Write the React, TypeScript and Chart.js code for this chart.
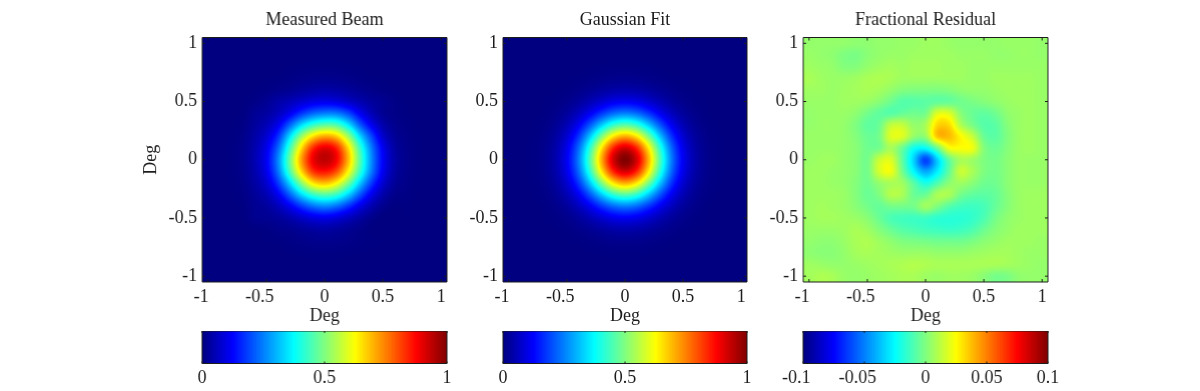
import React, { useEffect, useRef } from "react";
import { Chart, registerables } from "chart.js";

Chart.register(...registerables);

const FONT = '"Liberation Serif"';
const INK = "#1c1c1c";
const FONT_SIZE = 18;

// grid coordinates, degrees
const gridAxis = [-1, -0.9, -0.8, -0.7, -0.6, -0.5, -0.4, -0.3, -0.2, -0.1, 0, 0.1, 0.2, 0.3, 0.4, 0.5, 0.6, 0.7, 0.8, 0.9, 1];
const axisTicks = [-1, -0.5, 0, 0.5, 1];

// rows run from y=+1 down to y=-1; values in thousandths
const measuredBeam = [
  [0,0,0,0,0,0,0,0,0,0,0,0,0,0,0,0,0,0,0,0,0],
  [0,0,0,0,0,0,0,0,0,1,1,1,0,0,0,0,0,0,0,0,0],
  [0,0,0,0,0,1,1,2,3,4,4,4,3,2,1,1,0,0,0,0,0],
  [0,0,0,0,1,2,3,6,10,13,14,13,10,6,3,2,1,0,0,0,0],
  [0,0,0,1,2,6,12,18,28,36,41,37,29,19,11,5,2,1,0,0,0],
  [0,0,1,2,8,20,38,55,77,97,104,96,74,50,30,19,8,2,1,0,0],
  [0,0,1,4,21,33,59,107,172,223,246,243,195,116,56,20,9,3,1,0,0],
  [0,1,2,7,28,54,107,217,337,421,461,449,357,219,113,44,16,6,2,0,0],
  [0,1,3,11,38,80,170,341,520,653,712,677,536,347,197,78,25,10,3,1,0],
  [0,1,4,14,46,105,225,429,653,833,899,847,665,439,251,113,35,13,4,1,0],
  [0,1,4,15,49,114,256,477,714,887,938,883,700,467,266,122,40,14,4,1,0],
  [0,1,4,14,44,105,237,443,659,823,859,801,637,433,251,113,36,13,4,1,0],
  [0,1,3,11,35,79,179,333,506,647,686,629,498,331,185,82,25,10,3,1,0],
  [0,0,2,7,25,51,111,217,335,425,457,427,335,213,109,44,12,6,2,0,0],
  [0,0,1,4,18,29,58,111,177,233,258,233,173,103,50,16,3,3,1,0,0],
  [0,0,0,3,15,18,26,44,70,95,104,91,64,36,13,1,0,2,0,0,0],
  [0,0,0,1,2,5,11,15,24,32,36,30,21,10,2,0,0,1,0,0,0],
  [0,0,0,0,1,2,3,6,10,13,14,13,10,6,3,2,1,0,0,0,0],
  [0,0,0,0,0,0,1,2,3,4,4,4,3,2,1,0,0,0,0,0,0],
  [0,0,0,0,0,0,0,0,1,1,1,1,1,0,0,0,0,0,0,0,0],
  [0,0,0,0,0,0,0,0,0,0,0,0,0,0,0,0,0,0,0,0,0],
];

const gaussianFit = [
  [0,0,0,0,0,0,0,0,0,0,0,0,0,0,0,0,0,0,0,0,0],
  [0,0,0,0,0,0,0,0,0,1,1,1,0,0,0,0,0,0,0,0,0],
  [0,0,0,0,0,0,1,2,3,4,4,4,3,2,1,0,0,0,0,0,0],
  [0,0,0,0,1,2,3,6,10,13,14,13,10,6,3,2,1,0,0,0,0],
  [0,0,0,1,2,5,11,20,31,40,44,40,31,20,11,5,2,1,0,0,0],
  [0,0,0,2,5,13,28,52,80,105,114,105,80,52,28,13,5,2,0,0,0],
  [0,0,1,3,11,28,62,113,175,227,248,227,175,113,62,28,11,3,1,0,0],
  [0,0,2,6,20,52,113,209,323,419,457,419,323,209,113,52,20,6,2,0,0],
  [0,1,3,10,31,80,175,323,498,647,706,647,498,323,175,80,31,10,3,1,0],
  [0,1,4,13,40,105,227,419,647,841,917,841,647,419,227,105,40,13,4,1,0],
  [0,1,4,14,44,114,248,457,706,917,1000,917,706,457,248,114,44,14,4,1,0],
  [0,1,4,13,40,105,227,419,647,841,917,841,647,419,227,105,40,13,4,1,0],
  [0,1,3,10,31,80,175,323,498,647,706,647,498,323,175,80,31,10,3,1,0],
  [0,0,2,6,20,52,113,209,323,419,457,419,323,209,113,52,20,6,2,0,0],
  [0,0,1,3,11,28,62,113,175,227,248,227,175,113,62,28,11,3,1,0,0],
  [0,0,0,2,5,13,28,52,80,105,114,105,80,52,28,13,5,2,0,0,0],
  [0,0,0,1,2,5,11,20,31,40,44,40,31,20,11,5,2,1,0,0,0],
  [0,0,0,0,1,2,3,6,10,13,14,13,10,6,3,2,1,0,0,0,0],
  [0,0,0,0,0,0,1,2,3,4,4,4,3,2,1,0,0,0,0,0,0],
  [0,0,0,0,0,0,0,0,0,1,1,1,0,0,0,0,0,0,0,0,0],
  [0,0,0,0,0,0,0,0,0,0,0,0,0,0,0,0,0,0,0,0,0],
];

const fractionalResidual = [
  [4,4,4,4,3,3,4,4,5,5,6,6,5,4,4,4,4,5,5,5,4],
  [5,4,3,0,-1,2,4,5,5,6,6,6,6,5,5,5,4,4,5,5,4],
  [6,5,4,1,1,4,6,7,6,7,7,7,6,6,5,5,5,5,5,5,5],
  [8,6,5,5,6,8,9,8,6,6,6,6,6,6,5,5,6,6,6,6,5],
  [6,6,5,6,7,8,7,4,1,0,0,0,1,3,4,4,5,6,6,6,5],
  [5,5,5,6,6,5,2,-3,-8,-8,-7,-6,-5,-3,-1,1,3,5,6,6,5],
  [4,5,5,5,3,-2,-6,-8,-5,-3,-2,18,18,2,-4,-6,-3,3,5,6,5],
  [4,5,5,4,0,-6,-4,12,13,4,8,32,32,10,-1,-8,-7,1,5,6,5],
  [5,5,5,4,1,-4,-2,18,18,4,4,36,38,26,14,-4,-7,0,5,6,5],
  [5,5,5,4,2,-3,-2,8,-4,-22,-24,-4,22,24,22,1,-4,1,5,6,5],
  [5,6,6,4,2,-2,14,18,-6,-34,-62,-34,-6,8,6,0,-2,2,5,5,5],
  [6,6,5,4,2,-2,16,22,-2,-26,-42,-28,-6,14,8,0,-2,2,5,5,5],
  [6,6,5,4,1,-3,4,8,6,-8,-20,-10,2,6,2,-3,-3,2,5,5,5],
  [6,6,6,5,1,-4,0,10,8,-4,-4,8,8,-2,-6,-7,-5,1,5,6,6],
  [6,7,6,5,2,-2,-5,-2,-2,-2,6,0,-8,-12,-13,-11,-5,1,5,6,6],
  [6,7,7,6,5,2,-4,-10,-12,-13,-13,-16,-17,-17,-15,-10,-2,3,5,6,6],
  [5,5,5,6,8,6,1,-4,-8,-10,-12,-13,-14,-13,-10,-4,1,4,6,6,6],
  [4,3,3,5,8,9,6,3,0,-1,-2,-3,-3,-3,-1,2,4,6,6,6,5],
  [3,2,2,4,7,8,7,6,5,5,5,4,4,4,5,6,7,7,6,5,5],
  [6,5,4,4,5,6,7,8,9,10,9,8,8,8,8,8,8,7,6,5,4],
  [7,9,8,5,4,5,6,7,8,8,6,5,6,6,5,2,-2,-1,3,4,4],
];

const panelTitles = ["Measured Beam", "Gaussian Fit", "Fractional Residual"];
const panelLefts = [202, 502.5, 803];
const beamColorTicks = [0, 0.5, 1];
const residualColorTicks = [-0.1, -0.05, 0, 0.05, 0.1];

const PLOT_SIZE = 244.5;
const PLOT_TOP = 37.5;
const AXIS_LIMIT = 1.05;

function clip01(v: number) {
  return Math.max(0, Math.min(1, v));
}
function jet(t: number): [number, number, number] {
  return [
    Math.round(255 * clip01(1.5 - Math.abs(4 * t - 3))),
    Math.round(255 * clip01(1.5 - Math.abs(4 * t - 2))),
    Math.round(255 * clip01(1.5 - Math.abs(4 * t - 1))),
  ];
}
function cubic(a: number, b: number, c: number, d: number, t: number) {
  return b + 0.5 * t * (c - a + t * (2 * a - 5 * b + 4 * c - d + t * (3 * (b - c) + d - a)));
}
// shading-interp style resampling of the grid at a data position
function sample(grid: number[][], x: number, y: number) {
  const n = gridAxis.length;
  const step = gridAxis[1] - gridAxis[0];
  const fx = Math.max(0, Math.min(n - 1, (x - gridAxis[0]) / step));
  const fy = Math.max(0, Math.min(n - 1, (gridAxis[n - 1] - y) / step));
  const ix = Math.min(n - 2, Math.floor(fx));
  const iy = Math.min(n - 2, Math.floor(fy));
  const at = (r: number, c: number) =>
    grid[Math.max(0, Math.min(n - 1, r))][Math.max(0, Math.min(n - 1, c))];
  const row = (r: number) =>
    cubic(at(r, ix - 1), at(r, ix), at(r, ix + 1), at(r, ix + 2), fx - ix);
  return cubic(row(iy - 1), row(iy), row(iy + 1), row(iy + 2), fy - iy);
}

function tickLabel(v: number) {
  // the reference centres the digits and lets the minus sign hang to the left
  return v < 0 ? `${v}\u00a0\u00a0\u00a0` : `${v}`;
}
const fontOpt = { family: FONT, size: FONT_SIZE };

function drawInwardTicks(chart: any, yToo: boolean, len: number) {
  const { ctx, chartArea: a, scales } = chart;
  ctx.save();
  ctx.strokeStyle = INK;
  ctx.lineWidth = 1;
  ctx.beginPath();
  ctx.rect(a.left, a.top, a.right - a.left, a.bottom - a.top);
  for (const t of scales.x.ticks) {
    const px = scales.x.getPixelForValue(t.value);
    ctx.moveTo(px, a.top);
    ctx.lineTo(px, a.top + len);
    ctx.moveTo(px, a.bottom);
    ctx.lineTo(px, a.bottom - len);
  }
  if (yToo) {
    for (const t of scales.y.ticks) {
      const py = scales.y.getPixelForValue(t.value);
      ctx.moveTo(a.left, py);
      ctx.lineTo(a.left + len, py);
      ctx.moveTo(a.right, py);
      ctx.lineTo(a.right - len, py);
    }
  }
  ctx.stroke();
  ctx.restore();
}

function makeHeatmap(canvas: HTMLCanvasElement, grid: number[][], lo: number, hi: number, title: string, showY: boolean) {
  const points: { x: number; y: number; v: number }[] = [];
  grid.forEach((row, r) =>
    row.forEach((v, c) => points.push({ x: gridAxis[c], y: gridAxis[gridAxis.length - 1 - r], v }))
  );
  const heatPlugin = {
    id: "heat",
    beforeDatasetsDraw(chart: any) {
      const { ctx, chartArea: a, scales } = chart;
      const x0 = Math.round(a.left);
      const y0 = Math.round(a.top);
      const w = Math.round(a.right) - x0;
      const h = Math.round(a.bottom) - y0;
      const img = ctx.createImageData(w, h);
      for (let j = 0; j < h; j++) {
        const yv = scales.y.getValueForPixel(y0 + j + 0.5);
        for (let i = 0; i < w; i++) {
          const xv = scales.x.getValueForPixel(x0 + i + 0.5);
          const t = clip01((sample(grid, xv, yv) - lo) / (hi - lo));
          const [r, g, b] = jet(t);
          const k = (j * w + i) * 4;
          img.data[k] = r;
          img.data[k + 1] = g;
          img.data[k + 2] = b;
          img.data[k + 3] = 255;
        }
      }
      ctx.putImageData(img, x0, y0);
    },
    afterDraw(chart: any) {
      drawInwardTicks(chart, true, 3);
    },
  };
  return new Chart(canvas, {
    type: "scatter",
    data: { datasets: [{ label: title, data: points as any, pointRadius: 0 }] },
    plugins: [heatPlugin],
    options: {
      animation: false,
      responsive: false,
      layout: { padding: { left: 0, right: 30, top: 0, bottom: 0 } },
      plugins: {
        legend: { display: false },
        tooltip: { enabled: false },
        title: {
          display: true,
          fullSize: false,
          text: title,
          color: INK,
          font: { ...fontOpt, weight: "normal" },
          padding: { top: 9, bottom: 6.9 },
        },
      },
      scales: {
        x: {
          type: "linear",
          min: -AXIS_LIMIT,
          max: AXIS_LIMIT,
          grid: { display: false, drawTicks: false },
          border: { display: false },
          afterBuildTicks: (s: any) => { s.ticks = axisTicks.map((value) => ({ value })); },
          afterFit: (s: any) => { s.height = 45; },
          ticks: {
            color: INK,
            font: fontOpt,
            padding: 4,
            autoSkip: false,
            maxRotation: 0,
            callback: (v: any) => tickLabel(Number(v)),
          },
          title: { display: true, text: "Deg", color: INK, font: fontOpt, padding: { top: 0, bottom: 0 } },
        },
        y: {
          type: "linear",
          min: -AXIS_LIMIT,
          max: AXIS_LIMIT,
          grid: { display: false, drawTicks: false },
          border: { display: false },
          afterBuildTicks: (s: any) => { s.ticks = axisTicks.map((value) => ({ value })); },
          afterFit: (s: any) => { s.width = 70; },
          ticks: {
            color: INK,
            font: fontOpt,
            padding: 5,
            autoSkip: false,
            callback: (v: any) => `${v}`,
          },
          title: { display: showY, text: "Deg", color: INK, font: fontOpt, padding: { top: 8, bottom: 0 } },
        },
      },
    } as any,
  });
}

function makeColorbar(canvas: HTMLCanvasElement, ticks: number[]) {
  const lo = ticks[0];
  const hi = ticks[ticks.length - 1];
  const barPlugin = {
    id: "bar",
    beforeDatasetsDraw(chart: any) {
      const { ctx, chartArea: a, scales } = chart;
      const x0 = Math.round(a.left);
      const x1 = Math.round(a.right);
      for (let i = x0; i < x1; i++) {
        const v = scales.x.getValueForPixel(i + 0.5);
        const [r, g, b] = jet(clip01((v - lo) / (hi - lo)));
        ctx.fillStyle = `rgb(${r},${g},${b})`;
        ctx.fillRect(i, a.top, 1, a.bottom - a.top);
      }
    },
    afterDraw(chart: any) {
      drawInwardTicks(chart, false, 2);
    },
  };
  return new Chart(canvas, {
    type: "scatter",
    data: { datasets: [{ data: ticks.map((x) => ({ x, y: 0 })), pointRadius: 0 }] },
    plugins: [barPlugin],
    options: {
      animation: false,
      responsive: false,
      layout: { padding: { left: 30, right: 30, top: 0, bottom: 0 } },
      plugins: { legend: { display: false }, tooltip: { enabled: false } },
      scales: {
        x: {
          type: "linear",
          min: lo,
          max: hi,
          grid: { display: false, drawTicks: false },
          border: { display: false },
          afterBuildTicks: (s: any) => { s.ticks = ticks.map((value) => ({ value })); },
          afterFit: (s: any) => { s.height = 27.5; },
          ticks: {
            color: INK,
            font: fontOpt,
            padding: 4,
            autoSkip: false,
            maxRotation: 0,
            callback: (v: any) => tickLabel(Number(v)),
          },
        },
        y: { display: false, min: -1, max: 1 },
      },
    } as any,
  });
}

const HEAT_W = 70 + PLOT_SIZE + 30;
const HEAT_H = PLOT_TOP + PLOT_SIZE + 45;
const BAR_TOP = 331;
const BAR_H = 60;
const BAR_W = PLOT_SIZE + 60;
const SOFTEN = "blur(0.35px)";

export default function App() {
  const heatRefs = [useRef<HTMLCanvasElement>(null), useRef<HTMLCanvasElement>(null), useRef<HTMLCanvasElement>(null)];
  const barRefs = [useRef<HTMLCanvasElement>(null), useRef<HTMLCanvasElement>(null), useRef<HTMLCanvasElement>(null)];

  useEffect(() => {
    document.body.style.margin = "0";
    const charts = [
      makeHeatmap(heatRefs[0].current!, measuredBeam, 0, 1000, panelTitles[0], true),
      makeHeatmap(heatRefs[1].current!, gaussianFit, 0, 1000, panelTitles[1], false),
      makeHeatmap(heatRefs[2].current!, fractionalResidual, -100, 100, panelTitles[2], false),
      makeColorbar(barRefs[0].current!, beamColorTicks),
      makeColorbar(barRefs[1].current!, beamColorTicks),
      makeColorbar(barRefs[2].current!, residualColorTicks),
    ];
    return () => charts.forEach((c) => c.destroy());
  }, []);

  return (
    <div style={{ position: "absolute", left: 0, top: 0, width: 1200, height: 391, overflow: "hidden", background: "#fff" }}>
      {panelLefts.map((left, i) => (
        <React.Fragment key={i}>
          <canvas
            ref={heatRefs[i]}
            width={HEAT_W}
            height={HEAT_H}
            style={{ position: "absolute", left: left - 70, top: 0, width: HEAT_W, height: HEAT_H, filter: SOFTEN }}
          />
          <canvas
            ref={barRefs[i]}
            width={BAR_W}
            height={BAR_H}
            style={{ position: "absolute", left: left - 30, top: BAR_TOP, width: BAR_W, height: BAR_H, filter: SOFTEN }}
          />
        </React.Fragment>
      ))}
    </div>
  );
}
